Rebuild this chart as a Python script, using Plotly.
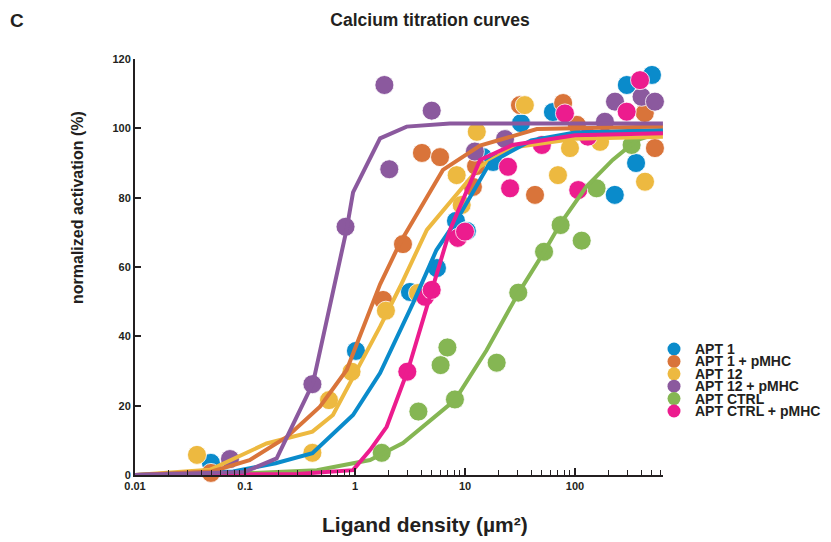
import plotly.graph_objects as go

# ---- data ----
series_names = ["APT 1", "APT 1 + pMHC", "APT 12", "APT 12 + pMHC", "APT CTRL", "APT CTRL + pMHC"]
series_colors = ["#0A8BCB", "#D9743A", "#EDB940", "#8B599E", "#85B653", "#EC1C8E"]

apt1_x = [0.049, 1.02, 3.16, 5.56, 8.28, 10.4, 14.6, 18, 32.3, 63, 230, 296, 359, 501]
apt1_y = [3.5, 35.8, 52.8, 59.7, 73.3, 70.4, 91.7, 90.3, 101.5, 104.7, 80.8, 112.5, 90.0, 115.4]

apt1p_x = [0.049, 1.8, 2.73, 4.06, 5.93, 11.8, 12.6, 31.6, 43.3, 78, 104, 431, 533]
apt1p_y = [0.6, 50.5, 66.6, 92.9, 91.7, 83.1, 89.1, 106.7, 80.8, 107.3, 101.0, 104.4, 94.3]

apt12_x = [0.0366, 0.41, 0.58, 0.93, 1.91, 3.74, 8.4, 9.33, 12.8, 35, 70, 90, 169, 433]
apt12_y = [5.8, 6.4, 21.6, 29.8, 47.4, 52.5, 86.5, 77.9, 99.0, 106.7, 86.5, 94.3, 96.1, 84.6]

apt12p_x = [0.073, 0.41, 0.82, 1.85, 2.05, 4.98, 12.3, 23.1, 187, 231, 403, 533]
apt12p_y = [4.6, 26.2, 71.6, 112.5, 88.2, 105.1, 93.3, 96.9, 101.9, 107.7, 109.1, 107.7]

ctrl_x = [1.75, 3.77, 6.0, 6.92, 8.1, 19.4, 30.5, 52.3, 74, 115, 157, 327]
ctrl_y = [6.4, 18.3, 31.7, 36.8, 21.8, 32.4, 52.6, 64.4, 72.1, 67.6, 82.7, 95.2]

ctrlp_x = [2.99, 4.33, 4.98, 8.6, 10.0, 24.6, 25.7, 50, 81, 107, 131, 295, 390]
ctrlp_y = [29.8, 51.4, 53.4, 68.4, 70.2, 88.9, 82.7, 95.2, 104.3, 82.2, 97.6, 104.8, 113.9]

# fitted curves
fit_apt1_x = [0.01, 0.078, 0.19, 0.41, 0.96, 1.69, 3.37, 5.5, 8.4, 16.8, 40, 100, 630]
fit_apt1_y = [0.0, 1.0, 3.4, 6.3, 17.3, 29.4, 49.6, 64.9, 73.5, 90.0, 96.5, 98.8, 99.5]

fit_apt1p_x = [0.01, 0.05, 0.11, 0.24, 0.48, 0.84, 1.69, 2.57, 6.3, 13.7, 45, 630]
fit_apt1p_y = [0.0, 1.0, 4.3, 11.0, 19.7, 30.3, 55.0, 67.0, 88.0, 95.0, 99.8, 100.5]

fit_apt12_x = [0.01, 0.048, 0.157, 0.41, 0.63, 1.69, 2.57, 4.5, 13.7, 27, 100, 630]
fit_apt12_y = [0.0, 1.5, 9.1, 12.5, 17.3, 42.8, 54.3, 70.7, 89.0, 94.5, 97.0, 97.6]

fit_apt12p_x = [0.01, 0.1, 0.194, 0.415, 0.84, 0.96, 1.69, 2.95, 7.3, 630]
fit_apt12p_y = [0.0, 0.9, 4.8, 26.5, 70.9, 81.5, 97.1, 100.5, 101.4, 101.4]

fit_ctrl_x = [0.01, 0.1, 0.45, 1.37, 2.73, 8.1, 15.7, 30.5, 51.5, 74, 127, 220, 365, 630]
fit_ctrl_y = [0.0, 0.5, 1.4, 4.3, 9.2, 21.6, 36.0, 52.4, 64.0, 72.6, 83.2, 90.9, 96.6, 99.0]

fit_ctrlp_x = [0.01, 0.3, 0.96, 1.37, 1.94, 3.03, 4.5, 7.3, 13.7, 27, 100, 630]
fit_ctrlp_y = [0.0, 0.3, 1.4, 7.2, 13.9, 30.3, 48.5, 70.7, 90.9, 95.2, 98.0, 98.6]

x_tick_vals = [0.01, 0.1, 1, 10, 100]
x_tick_text = ["0.01", "0.1", "1", "10", "100"]
x_minor_vals = [m * d for d in (0.01, 0.1, 1, 10, 100) for m in range(2, 10) if m * d <= 631]
y_tick_vals = [0, 20, 40, 60, 80, 100, 120]

points = [(apt1_x, apt1_y), (apt1p_x, apt1p_y), (apt12_x, apt12_y),
          (apt12p_x, apt12p_y), (ctrl_x, ctrl_y), (ctrlp_x, ctrlp_y)]
fits = [(fit_apt1_x, fit_apt1_y), (fit_apt1p_x, fit_apt1p_y), (fit_apt12_x, fit_apt12_y),
        (fit_apt12p_x, fit_apt12p_y), (fit_ctrl_x, fit_ctrl_y), (fit_ctrlp_x, fit_ctrlp_y)]

FONT = "Liberation Sans, Arial, sans-serif"
INK = "#231F20"

fig = go.Figure()
for name, color, (px, py) in zip(series_names, series_colors, points):
    fig.add_trace(go.Scatter(
        x=px, y=py, mode="markers", name=name,
        marker=dict(size=19, color=color, line=dict(color="white", width=0.8)),
        cliponaxis=False, showlegend=False,
    ))
line_order = [4, 2, 0, 1, 5, 3]
for i in line_order:
    fx, fy = fits[i]
    fig.add_trace(go.Scatter(
        x=fx, y=fy, mode="lines", showlegend=False,
        line=dict(color=series_colors[i], width=4),
        cliponaxis=False, hoverinfo="skip",
    ))

# page body has an 8px margin, so the figure is sized/offset to compensate
fig.update_layout(
    template="none",
    width=823, height=534,
    margin=dict(l=127, r=168, t=51, b=67),
    plot_bgcolor="white", paper_bgcolor="white",
    font=dict(family=FONT, color=INK),
    title=dict(text="Calcium titration curves", x=0.5128, xanchor="center",
               y=0.9775, yanchor="middle",
               font=dict(size=17.5, weight="bold", color=INK)),
    showlegend=False,
)
fig.update_xaxes(
    type="log", range=[-2, 2.8], automargin=False,
    showgrid=False, zeroline=False,
    showline=True, linecolor=INK, linewidth=2,
    ticks="inside", ticklen=7, tickwidth=1.5, tickcolor=INK,
    tickvals=x_tick_vals, ticktext=x_tick_text,
    tickfont=dict(size=11, weight="bold", color=INK),
    minor=dict(ticks="inside", ticklen=5, tickwidth=1, tickcolor=INK,
               tickmode="array", tickvals=x_minor_vals, showgrid=False),
)
fig.update_yaxes(
    range=[0, 120], automargin=False,
    showgrid=False, zeroline=False,
    showline=True, linecolor=INK, linewidth=2,
    ticks="inside", ticklen=6, tickwidth=2, tickcolor=INK,
    tickvals=y_tick_vals,
    tickfont=dict(size=11, weight="bold", color=INK),
)
plot_l, plot_w, plot_b, plot_h = 135, 528, 475, 416   # plot area in page pixels


def px_x(p):
    return (p - plot_l) / plot_w


def px_y(p):
    return (plot_b - p) / plot_h


# axis titles (placed as in the reference, off the axis centres)
fig.add_annotation(text="Ligand density (µm²)", xref="paper", yref="paper",
                   x=px_x(425), y=px_y(524),
                   xanchor="center", yanchor="middle", showarrow=False,
                   font=dict(size=21, weight="bold", color=INK))
fig.add_annotation(text="normalized activation (%)", xref="paper", yref="paper",
                   x=px_x(78), y=px_y(208), textangle=-90,
                   xanchor="center", yanchor="middle", showarrow=False,
                   font=dict(size=16, weight="bold", color=INK))
fig.add_annotation(text="C", xref="paper", yref="paper", x=px_x(17), y=px_y(20),
                   xanchor="center", yanchor="middle", showarrow=False,
                   font=dict(size=19, weight="bold", color=INK))

# compact legend (circle + label per series)
for i, (name, color) in enumerate(zip(series_names, series_colors)):
    yp = px_y(349 + 12.4 * i)
    fig.add_shape(type="circle", xref="paper", yref="paper",
                  xsizemode="pixel", ysizemode="pixel",
                  xanchor=px_x(674), yanchor=yp,
                  x0=-6.5, x1=6.5, y0=-6.5, y1=6.5,
                  fillcolor=color, line=dict(width=0))
    fig.add_annotation(text=name, xref="paper", yref="paper",
                       x=px_x(693), y=yp,
                       xanchor="left", yanchor="middle", showarrow=False,
                       font=dict(size=14, weight="bold", color=INK))

fig.write_html("out.html")
